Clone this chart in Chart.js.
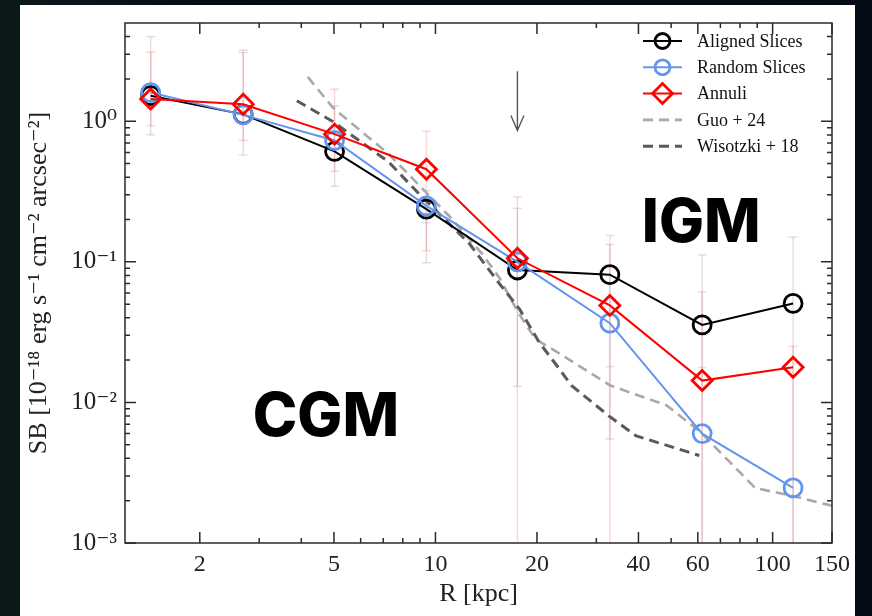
<!DOCTYPE html>
<html>
<head>
<meta charset="utf-8">
<script src="https://cdn.jsdelivr.net/npm/chart.js@4.4.1/dist/chart.umd.min.js"></script>
<style>
html, body { margin: 0; padding: 0; }
body {
    width: 872px; height: 616px; overflow: hidden; position: relative;
    background: linear-gradient(90deg, #0a1918 0%, #050c15 25%, #040a16 70%, #060b18 100%);
}
#panel { position: absolute; left: 20px; top: 5px; width: 835px; height: 611px; background: #fff; }
#c { position: absolute; left: 0; top: 0; }
</style>
</head>
<body>
<div id="panel"></div>
<canvas id="c" width="872" height="616"></canvas>
<script>
// radial bins [kpc]
var radius_kpc = [1.43, 2.69, 5.02, 9.4, 17.5, 32.9, 61.8, 115];

// surface brightness [1e-18 erg/s/cm2/arcsec2]
var aligned_sb = [1.52, 1.12, 0.61, 0.237, 0.0875, 0.081, 0.0356, 0.0506];
var random_sb  = [1.6, 1.11, 0.73, 0.25, 0.1, 0.0366, 0.0060, 0.00247];
var annuli_sb  = [1.44, 1.32, 0.81, 0.456, 0.106, 0.049, 0.0143, 0.0178];

// error bars (lower values below the axis run off the bottom)
var aligned_lo = [0.80, 0.575, 0.345, 0.0985, 0.013, 0.0055, 0.0001, 0.0001];
var aligned_hi = [4.0, 3.2, 1.29, 0.32, 0.24, 0.133, 0.112, 0.15];
var annuli_lo  = [0.93, 0.73, 0.44, 0.12, 0.0001, 0.0001, 0.0001, 0.0001];
var annuli_hi  = [3.1, 3.08, 1.69, 0.85, 0.29, 0.154, 0.061, 0.025];
var random_lo  = [null, null, null, 0.19, null, 0.018, null, null];
var random_hi  = [null, null, null, null, null, null, 0.0177, null];

// literature profiles
var guo_r   = [4.18, 4.96, 7.26, 11.0, 13.8, 15.5, 17.6, 19.8, 22.7, 33.0, 48.4, 60.6, 88.8, 115, 150];
var guo_sb  = [2.07, 1.25, 0.585, 0.211, 0.113, 0.0765, 0.0435, 0.0282, 0.0232, 0.0132, 0.00955, 0.00627, 0.00246, 0.00216, 0.00184];
var wis_r   = [3.88, 4.96, 7.26, 8.97, 12.6, 15.2, 17.8, 20.3, 23.3, 25.3, 33.0, 39.4, 60.6];
var wis_sb  = [1.40, 0.995, 0.514, 0.302, 0.135, 0.074, 0.0457, 0.0268, 0.0173, 0.0132, 0.00787, 0.00578, 0.00419];

// axes
var x_ticks = [2, 5, 10, 20, 40, 60, 100, 150];
var x_minor = [3, 4, 6, 7, 8, 9, 30, 50, 70, 80, 90];
var y_ticks = [0.001, 0.01, 0.1, 1];
var y_tick_labels = ['10\u207B\u00B3', '10\u207B\u00B2', '10\u207B\u00B9', '10\u2070'];
var y_minor = [0.002, 0.003, 0.004, 0.005, 0.006, 0.007, 0.008, 0.009,
               0.02, 0.03, 0.04, 0.05, 0.06, 0.07, 0.08, 0.09,
               0.2, 0.3, 0.4, 0.5, 0.6, 0.7, 0.8, 0.9, 2, 3, 4];

// annotations
var arrow_r = 17.5, arrow_top = 2.27, arrow_tip = 0.86;
var region_labels = [
    {text: 'IGM', r: 61.4, sb: 0.139},
    {text: 'CGM', r: 4.73, sb: 0.00579}
];

var SERIF = '"Liberation Serif", "DejaVu Serif", serif';

function pts(xs, ys) {
    return xs.map(function (x, i) { return {x: x, y: ys[i]}; });
}

var errorSets = [
    {lo: aligned_lo, hi: aligned_hi, color: 'rgba(0,0,0,0.12)'},
    {lo: random_lo, hi: random_hi, color: 'rgba(100,149,237,0.25)'},
    {lo: annuli_lo, hi: annuli_hi, color: 'rgba(255,0,0,0.16)'}
];

var errorBars = {
    id: 'errorBars',
    beforeDatasetsDraw: function (chart) {
        var ctx = chart.ctx, a = chart.chartArea, xs = chart.scales.x, ys = chart.scales.y;
        ctx.save();
        ctx.beginPath();
        ctx.rect(a.left, a.top, a.right - a.left, a.bottom - a.top);
        ctx.clip();
        ctx.lineWidth = 1.5;
        errorSets.forEach(function (s) {
            ctx.strokeStyle = s.color;
            radius_kpc.forEach(function (r, i) {
                var px = xs.getPixelForValue(r);
                var lo = s.lo[i], hi = s.hi[i];
                var pLo = lo != null ? ys.getPixelForValue(lo) : null;
                var pHi = hi != null ? ys.getPixelForValue(hi) : null;
                if (pLo != null && pHi != null) {
                    ctx.beginPath(); ctx.moveTo(px, pLo); ctx.lineTo(px, pHi); ctx.stroke();
                }
                [pLo, pHi].forEach(function (py) {
                    if (py == null) return;
                    ctx.beginPath(); ctx.moveTo(px - 4.5, py); ctx.lineTo(px + 4.5, py); ctx.stroke();
                });
            });
        });
        ctx.restore();
    }
};

var annotations = {
    id: 'annotations',
    afterDatasetsDraw: function (chart) {
        var ctx = chart.ctx, xs = chart.scales.x, ys = chart.scales.y;
        ctx.save();
        // arrow
        var ax = xs.getPixelForValue(arrow_r);
        var y0 = ys.getPixelForValue(arrow_top), y1 = ys.getPixelForValue(arrow_tip);
        ctx.strokeStyle = '#555';
        ctx.lineWidth = 1.4;
        ctx.beginPath();
        ctx.moveTo(ax, y0); ctx.lineTo(ax, y1);
        ctx.moveTo(ax - 6.5, y1 - 15); ctx.lineTo(ax, y1); ctx.lineTo(ax + 6.5, y1 - 15);
        ctx.stroke();
        // region labels
        ctx.fillStyle = '#000';
        ctx.font = '800 60px Inter, Roboto, sans-serif';
        ctx.textAlign = 'center';
        ctx.textBaseline = 'alphabetic';
        region_labels.forEach(function (l) {
            ctx.fillText(l.text, xs.getPixelForValue(l.r), ys.getPixelForValue(l.sb));
        });
        ctx.restore();
    }
};

var frameTicks = {
    id: 'frameTicks',
    afterDraw: function (chart) {
        var ctx = chart.ctx, a = chart.chartArea, xs = chart.scales.x, ys = chart.scales.y;
        ctx.save();
        ctx.strokeStyle = '#2a2a2a';
        ctx.lineWidth = 1.5;
        ctx.strokeRect(a.left, a.top, a.right - a.left, a.bottom - a.top);
        ctx.beginPath();
        function xt(v, len) {
            var p = xs.getPixelForValue(v);
            ctx.moveTo(p, a.bottom); ctx.lineTo(p, a.bottom - len);
            ctx.moveTo(p, a.top); ctx.lineTo(p, a.top + len);
        }
        function yt(v, len) {
            var p = ys.getPixelForValue(v);
            ctx.moveTo(a.left, p); ctx.lineTo(a.left + len, p);
            ctx.moveTo(a.right, p); ctx.lineTo(a.right - len, p);
        }
        x_ticks.forEach(function (v) { xt(v, 11); });
        x_minor.forEach(function (v) { xt(v, 5); });
        y_ticks.forEach(function (v) { yt(v, 11); });
        y_minor.forEach(function (v) { yt(v, 5); });
        ctx.stroke();
        ctx.restore();
    }
};

var legendBox = {
    id: 'legendBox',
    afterDraw: function (chart) {
        var ctx = chart.ctx;
        var x0 = 643, x1 = 682, xm = 662.5, tx = 697, y = 41, dy = 26.3;
        ctx.save();
        ctx.font = '18px ' + SERIF;
        ctx.textBaseline = 'middle';
        chart.data.datasets.forEach(function (ds) {
            ctx.strokeStyle = ds.borderColor;
            ctx.lineWidth = ds.borderWidth;
            ctx.setLineDash(ds.borderDash || []);
            ctx.beginPath(); ctx.moveTo(x0, y); ctx.lineTo(x1, y); ctx.stroke();
            ctx.setLineDash([]);
            if (ds.pointRadius > 0) {
                ctx.lineWidth = ds.pointBorderWidth;
                ctx.beginPath();
                if (ds.pointStyle === 'rectRot') {
                    var r = ds.pointRadius;
                    ctx.moveTo(xm - r, y); ctx.lineTo(xm, y - r); ctx.lineTo(xm + r, y); ctx.lineTo(xm, y + r);
                    ctx.closePath();
                } else {
                    ctx.arc(xm, y, 7.5, 0, Math.PI * 2);
                }
                ctx.stroke();
            }
            ctx.fillStyle = '#111';
            ctx.fillText(ds.label, tx, y + 1);
            y += dy;
        });
        ctx.restore();
    }
};

var chart = new Chart(document.getElementById('c').getContext('2d'), {
    type: 'line',
    data: {
        datasets: [
            {
                label: 'Aligned Slices', data: pts(radius_kpc, aligned_sb),
                borderColor: '#000', borderWidth: 2,
                pointStyle: 'circle', pointRadius: 9, pointBorderWidth: 2.8,
                pointBorderColor: '#000', pointBackgroundColor: 'rgba(0,0,0,0)', order: 2
            },
            {
                label: 'Random Slices', data: pts(radius_kpc, random_sb),
                borderColor: '#6495ed', borderWidth: 2,
                pointStyle: 'circle', pointRadius: 9, pointBorderWidth: 2.8,
                pointBorderColor: '#6495ed', pointBackgroundColor: 'rgba(0,0,0,0)', order: 1
            },
            {
                label: 'Annuli', data: pts(radius_kpc, annuli_sb),
                borderColor: '#ff0000', borderWidth: 2,
                pointStyle: 'rectRot', pointRadius: 10, pointBorderWidth: 2.8,
                pointBorderColor: '#ff0000', pointBackgroundColor: 'rgba(0,0,0,0)', order: 0
            },
            {
                label: 'Guo + 24', data: pts(guo_r, guo_sb),
                borderColor: '#a9a9a9', borderWidth: 2.6, borderDash: [10, 6],
                pointRadius: 0, order: 4
            },
            {
                label: 'Wisotzki + 18', data: pts(wis_r, wis_sb),
                borderColor: '#5a5a5a', borderWidth: 3, borderDash: [10, 6],
                pointRadius: 0, order: 3
            }
        ]
    },
    options: {
        responsive: false,
        animation: false,
        events: [],
        devicePixelRatio: 1,
        layout: { padding: { left: 0, top: 15, right: 40, bottom: 0 } },
        plugins: { legend: { display: false }, tooltip: { enabled: false } },
        scales: {
            x: {
                type: 'logarithmic', min: 1.2, max: 150,
                grid: { display: false, drawTicks: false }, border: { display: false },
                afterBuildTicks: function (scale) {
                    scale.ticks = x_ticks.map(function (v) { return {value: v}; });
                },
                afterFit: function (scale) { scale.height = 73; },
                ticks: {
                    autoSkip: false, maxRotation: 0, minRotation: 0, padding: 7,
                    color: '#222', font: { family: SERIF, size: 24 },
                    callback: function (v) { return String(v); }
                },
                title: {
                    display: true, text: 'R [kpc]', color: '#222',
                    font: { family: SERIF, size: 26 }, padding: { top: 0, bottom: 6 }
                }
            },
            y: {
                type: 'logarithmic', min: 0.001, max: 5,
                grid: { display: false, drawTicks: false }, border: { display: false },
                afterBuildTicks: function (scale) {
                    scale.ticks = y_ticks.map(function (v) { return {value: v}; });
                },
                afterFit: function (scale) { scale.width = 125; },
                ticks: {
                    autoSkip: false, padding: 8,
                    color: '#222', font: { family: SERIF, size: 25 },
                    callback: function (v) { return y_tick_labels[y_ticks.indexOf(v)]; }
                },
                title: {
                    display: true, text: 'SB [10\u207B\u00B9\u2078 erg s\u207B\u00B9 cm\u207B\u00B2 arcsec\u207B\u00B2]',
                    color: '#222', font: { family: SERIF, size: 26 }, padding: { top: 24, bottom: 0 }
                }
            }
        }
    },
    plugins: [errorBars, annotations, frameTicks, legendBox]
});
</script>
</body>
</html>
